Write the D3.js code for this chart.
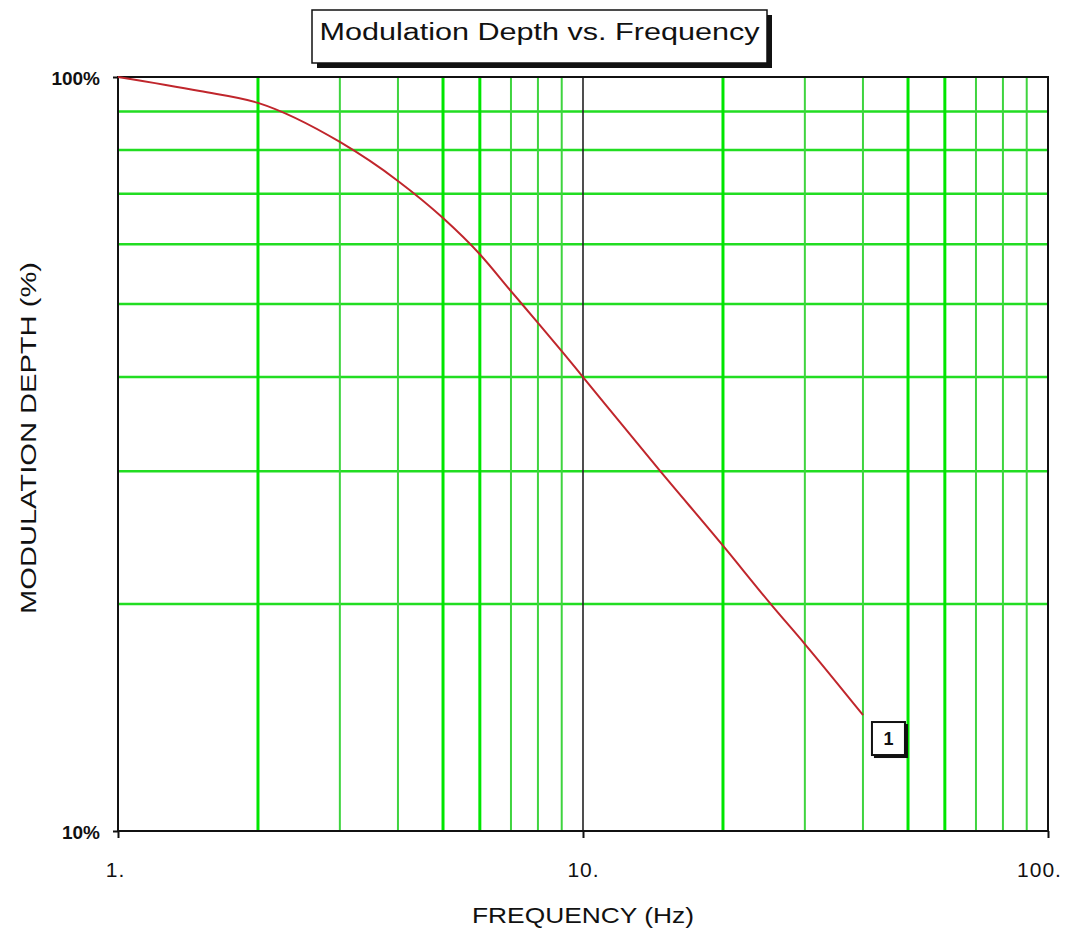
<!DOCTYPE html>
<html>
<head>
<meta charset="utf-8">
<script src="https://cdn.jsdelivr.net/npm/d3@7/dist/d3.min.js"></script>
<style>
  html, body { margin: 0; padding: 0; background: #fff; }
  svg { display: block; font-family: "Liberation Sans", Arial, sans-serif; }
</style>
</head>
<body>
<svg id="chart" width="1068" height="931"></svg>
<script>
// Modulation depth (%) measured against frequency (Hz)
const frequency = [1, 1.5, 2, 3, 4, 5, 6, 7, 8, 9, 10, 14.6, 20, 25.5, 30, 40];
const depth     = [100, 95.8, 92.4, 82.0, 72.8, 65.0, 58.2, 52.0, 47.2, 43.3, 40.0, 30.1, 23.9, 19.9, 17.7, 14.25];

const xTickValues = [1, 10, 100];
const xTickLabels = ["1.", "10.", "100."];
const yTickValues = [10, 100];
const yTickLabels = ["10%", "100%"];

// Minor grid values per decade
const xGridValues = [2, 3, 4, 5, 6, 7, 8, 9, 20, 30, 40, 50, 60, 70, 80, 90];
const xGridHeavy  = [2, 5, 6, 20, 50, 60];
const yGridValues = [20, 30, 40, 50, 60, 70, 80, 90];

const chartTitle = "Modulation Depth vs. Frequency";
const xTitle = "FREQUENCY (Hz)";
const yTitle = "MODULATION DEPTH (%)";
const curveLabel = "1";

const svg = d3.select("#chart");
const plot = { left: 118, right: 1048, top: 77, bottom: 831 };

const x = d3.scaleLog().domain([1, 100]).range([plot.left, plot.right]);
const y = d3.scaleLog().domain([10, 100]).range([plot.bottom, plot.top]);

// grid
const grid = svg.append("g");
grid.selectAll("line.h").data(yGridValues).enter().append("line")
  .attr("x1", plot.left).attr("x2", plot.right)
  .attr("y1", d => y(d)).attr("y2", d => y(d))
  .attr("stroke", "#22dd22").attr("stroke-width", 2.5);
grid.selectAll("line.v").data(xGridValues).enter().append("line")
  .attr("y1", plot.top).attr("y2", plot.bottom)
  .attr("x1", d => x(d)).attr("x2", d => x(d))
  .attr("stroke", d => xGridHeavy.includes(d) ? "#00e600" : "#3fd43f")
  .attr("stroke-width", d => xGridHeavy.includes(d) ? 3 : 2);

// decade line at 10 Hz
svg.append("line")
  .attr("x1", x(10)).attr("x2", x(10))
  .attr("y1", plot.top).attr("y2", plot.bottom)
  .attr("stroke", "#222").attr("stroke-width", 1.6);

// frame
svg.append("rect")
  .attr("x", plot.left).attr("y", plot.top)
  .attr("width", plot.right - plot.left).attr("height", plot.bottom - plot.top)
  .attr("fill", "none").attr("stroke", "#111").attr("stroke-width", 2);

// axes with outer tick stubs
const xAxis = d3.axisBottom(x).tickValues(xTickValues)
  .tickFormat((d, i) => xTickLabels[i]).tickSize(7);
const gx = svg.append("g").attr("transform", `translate(0,${plot.bottom})`).call(xAxis);
gx.select(".domain").remove();
gx.selectAll(".tick line").attr("stroke", "#111").attr("stroke-width", 2);
gx.selectAll(".tick text")
  .attr("y", 46).attr("dy", 0)
  .attr("dx", (d, i) => i === xTickValues.length - 1 ? -9 : (i === 0 ? -3 : 0))
  .attr("font-size", 21).attr("letter-spacing", 1).attr("fill", "#111")
  .attr("font-family", "Liberation Sans, Arial, sans-serif");

const yAxis = d3.axisLeft(y).tickValues(yTickValues)
  .tickFormat((d, i) => yTickLabels[i]).tickSize(5).tickPadding(13);
const gy = svg.append("g").attr("transform", `translate(${plot.left},0)`).call(yAxis);
gy.select(".domain").remove();
gy.selectAll(".tick line").attr("stroke", "#111").attr("stroke-width", 2);
gy.selectAll(".tick text")
  .attr("dy", "0.37em")
  .attr("font-size", 19).attr("font-weight", "bold").attr("fill", "#111")
  .attr("font-family", "Liberation Sans, Arial, sans-serif");

// data curve
const pts = frequency.map((f, i) => [f, depth[i]]);
const line = d3.line().x(d => x(d[0])).y(d => y(d[1])).curve(d3.curveMonotoneX);
svg.append("path").datum(pts)
  .attr("d", line)
  .attr("fill", "none").attr("stroke", "#c0262c").attr("stroke-width", 2);

// curve label box
const last = pts[pts.length - 1];
const lx = x(last[0]) + 9, ly = y(last[1]) + 7;
svg.append("rect").attr("x", lx + 2).attr("y", ly + 2).attr("width", 34).attr("height", 34).attr("fill", "#111");
svg.append("rect").attr("x", lx).attr("y", ly).attr("width", 33).attr("height", 33)
  .attr("fill", "#fff").attr("stroke", "#111").attr("stroke-width", 2);
svg.append("text").attr("x", lx + 16.5).attr("y", ly + 23)
  .attr("text-anchor", "middle").attr("font-size", 18).attr("font-weight", "bold").attr("fill", "#111")
  .text(curveLabel);

// title box with drop shadow
const tb = { x: 312, y: 10, w: 455, h: 53 };
svg.append("rect").attr("x", tb.x + 5).attr("y", tb.y + 5).attr("width", tb.w).attr("height", tb.h).attr("fill", "#111");
svg.append("rect").attr("x", tb.x).attr("y", tb.y).attr("width", tb.w).attr("height", tb.h)
  .attr("fill", "#fff").attr("stroke", "#111").attr("stroke-width", 1.5);
svg.append("text").attr("x", tb.x + tb.w / 2).attr("y", 40)
  .attr("text-anchor", "middle").attr("font-size", 23).attr("fill", "#111")
  .attr("textLength", 440).attr("lengthAdjust", "spacingAndGlyphs")
  .text(chartTitle);

// axis titles
svg.append("text").attr("x", x(10)).attr("y", 923)
  .attr("text-anchor", "middle").attr("font-size", 22).attr("fill", "#111")
  .attr("textLength", 222).attr("lengthAdjust", "spacingAndGlyphs")
  .text(xTitle);
svg.append("text")
  .attr("transform", `translate(36,438) rotate(-90)`)
  .attr("text-anchor", "middle").attr("font-size", 22).attr("fill", "#111")
  .attr("textLength", 352).attr("lengthAdjust", "spacingAndGlyphs")
  .text(yTitle);
</script>
</body>
</html>
